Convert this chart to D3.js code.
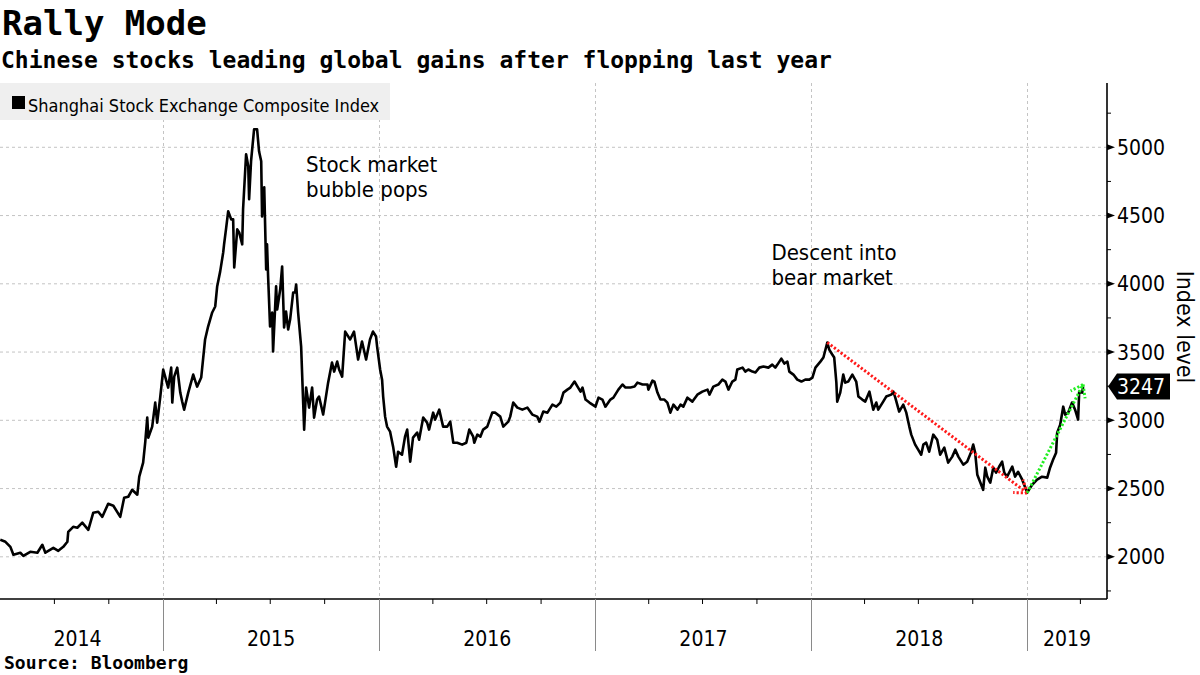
<!DOCTYPE html>
<html><head><meta charset="utf-8">
<script src="https://cdn.jsdelivr.net/npm/d3@7"></script>
<style>
body{margin:0;background:#fff}
svg{display:block}
.cond{font-family:"DejaVu Sans Condensed","Noto Sans","DejaVu Sans",sans-serif;font-stretch:condensed}
.mono{font-family:"DejaVu Sans Mono",monospace;font-weight:bold}
</style>
</head><body>
<svg id="c" width="1200" height="675"></svg>
<script>
// ---- data (decimal-year dates, index values) ----
const dates = [
2014.245,2014.269,2014.292,2014.306,2014.338,2014.352,2014.384,2014.417,2014.440,2014.454,
2014.491,2014.514,2014.537,2014.556,2014.560,2014.583,2014.602,2014.625,2014.653,2014.676,
2014.699,2014.718,2014.745,2014.769,2014.801,2014.819,2014.838,2014.856,2014.880,2014.889,
2014.907,2014.917,2014.926,2014.931,2014.949,2014.963,2014.972,2014.986,2015.000,2015.009,
2015.023,2015.037,2015.042,2015.051,2015.065,2015.079,2015.088,2015.097,2015.116,2015.139,
2015.157,2015.176,2015.194,2015.208,2015.227,2015.241,2015.250,2015.264,2015.278,2015.282,
2015.292,2015.301,2015.315,2015.324,2015.329,2015.343,2015.352,2015.366,2015.370,2015.384,
2015.394,2015.398,2015.407,2015.421,2015.435,2015.444,2015.454,2015.458,2015.468,2015.477,
2015.481,2015.486,2015.495,2015.505,2015.509,2015.523,2015.528,2015.542,2015.551,2015.560,
2015.569,2015.579,2015.588,2015.602,2015.611,2015.616,2015.625,2015.639,2015.653,2015.662,
2015.676,2015.690,2015.699,2015.713,2015.722,2015.741,2015.764,2015.782,2015.792,2015.806,
2015.815,2015.829,2015.843,2015.866,2015.884,2015.903,2015.921,2015.940,2015.958,2015.972,
2015.986,2015.991,2016.005,2016.014,2016.019,2016.028,2016.037,2016.051,2016.065,2016.079,
2016.088,2016.106,2016.120,2016.130,2016.144,2016.157,2016.176,2016.185,2016.204,2016.222,
2016.231,2016.250,2016.259,2016.278,2016.296,2016.315,2016.329,2016.343,2016.361,2016.384,
2016.403,2016.417,2016.435,2016.440,2016.454,2016.468,2016.481,2016.500,2016.523,2016.537,
2016.560,2016.574,2016.597,2016.606,2016.620,2016.639,2016.662,2016.685,2016.708,2016.731,
2016.741,2016.759,2016.778,2016.801,2016.819,2016.838,2016.852,2016.870,2016.884,2016.903,
2016.917,2016.931,2016.940,2016.954,2016.972,2016.986,2017.000,2017.014,2017.032,2017.046,
2017.069,2017.083,2017.106,2017.125,2017.139,2017.162,2017.181,2017.194,2017.218,2017.241,
2017.245,2017.264,2017.273,2017.287,2017.301,2017.319,2017.333,2017.347,2017.361,2017.380,
2017.394,2017.407,2017.426,2017.449,2017.472,2017.495,2017.519,2017.528,2017.546,2017.569,
2017.588,2017.602,2017.616,2017.634,2017.648,2017.657,2017.681,2017.694,2017.708,2017.727,
2017.741,2017.759,2017.778,2017.801,2017.819,2017.833,2017.843,2017.861,2017.875,2017.889,
2017.898,2017.917,2017.935,2017.954,2017.972,2017.991,2018.005,2018.019,2018.042,2018.056,
2018.074,2018.083,2018.097,2018.106,2018.116,2018.120,2018.134,2018.148,2018.157,2018.171,
2018.190,2018.208,2018.218,2018.236,2018.250,2018.269,2018.287,2018.301,2018.310,2018.333,
2018.347,2018.370,2018.380,2018.389,2018.407,2018.426,2018.440,2018.454,2018.463,2018.481,
2018.495,2018.509,2018.519,2018.532,2018.546,2018.565,2018.583,2018.597,2018.616,2018.634,
2018.653,2018.667,2018.681,2018.704,2018.722,2018.741,2018.750,2018.759,2018.769,2018.778,
2018.796,2018.806,2018.815,2018.829,2018.843,2018.856,2018.870,2018.884,2018.894,2018.907,
2018.931,2018.944,2018.958,2018.977,2018.986,2019.000,2019.023,2019.046,2019.069,2019.093,
2019.106,2019.120,2019.134,2019.139,2019.153,2019.167,2019.176,2019.190,2019.208,2019.222,
2019.236,2019.241,2019.255,2019.259
];
const values = [
2125,2110,2073,2015,2030,2007,2037,2030,2088,2030,
2066,2044,2073,2110,2183,2220,2213,2250,2198,2323,
2330,2293,2389,2374,2293,2433,2440,2491,2455,2587,
2690,2844,3020,2873,2954,3130,2983,3166,3372,3320,
3240,3386,3130,3320,3386,3203,3137,3078,3203,3335,
3247,3313,3592,3687,3790,3834,3981,4091,4230,4289,
4413,4531,4472,4472,4120,4399,4377,4289,4546,4949,
4861,4619,4898,5132,5132,4971,4898,4494,4707,4105,
4289,4054,3687,3790,3504,3981,3812,3958,4127,3680,
3797,3665,3738,3936,3936,3995,3790,3540,2932,3240,
3093,3240,3020,3152,3174,3042,3276,3423,3357,3430,
3372,3320,3650,3592,3650,3445,3577,3445,3592,3650,
3614,3540,3372,3298,3174,3027,2954,2917,2807,2660,
2770,2748,2880,2932,2697,2873,2910,2858,3020,2983,
2932,3056,3005,3078,2954,2954,2990,2836,2836,2822,
2836,2932,2880,2836,2895,2880,2932,2954,3056,3056,
3027,2954,2990,3027,3130,3093,3078,3093,3042,3027,
2990,3064,3056,3115,3100,3130,3203,3225,3240,3284,
3247,3210,3240,3152,3130,3115,3100,3166,3152,3100,
3152,3166,3225,3262,3240,3240,3247,3276,3262,3262,
3225,3291,3284,3203,3152,3152,3130,3056,3115,3078,
3115,3100,3166,3137,3188,3210,3225,3188,3247,3262,
3298,3284,3225,3284,3298,3372,3386,3357,3372,3357,
3350,3386,3394,3386,3408,3386,3408,3452,3416,3430,
3357,3335,3298,3284,3298,3298,3313,3386,3430,3460,
3570,3518,3482,3460,3276,3137,3203,3335,3276,3284,
3335,3284,3174,3152,3137,3210,3078,3130,3078,3137,
3174,3188,3210,3166,3064,3115,3056,2954,2895,2822,
2785,2748,2822,2836,2770,2895,2858,2748,2800,2690,
2734,2785,2734,2675,2697,2770,2822,2763,2601,2565,
2491,2653,2587,2543,2653,2616,2660,2697,2616,2587,
2660,2587,2623,2565,2528,2470,2528,2565,2587,2580,
2653,2711,2763,2910,2968,3100,3042,3056,3130,3078,
3005,3210,3203,3247
];
const yTicks = [2000,2500,3000,3500,4000,4500,5000];
const yMinorTicks = [1750,2250,2750,3250,3750,4250,4750,5250];
const yearLabels = ["2014","2015","2016","2017","2018","2019"];
const lastValue = 3247;
// annotation arrows: [fromDate, fromValue, toDate, toValue]
const redArrow = [2018.074, 3570, 2019.000, 2468];
const greenArrow = [2019.000, 2468, 2019.259, 3262];
const annotations = [
  {lines:["Stock market","bubble pops"], t:2015.662, v:4819},
  {lines:["Descent into","bear market"], t:2017.815, v:4174}
];

// ---- helpers ----
function fromDecimal(t){
  const yr=Math.floor(t), s=new Date(yr,0,1), e=new Date(yr+1,0,1);
  return new Date(+s + (t-yr)*(e-s));
}
const series = dates.map((t,i)=>({d:fromDecimal(t), v:values[i]}));

const pL=0, pR=1107, pT=83, pB=599;
const xs = d3.scaleTime().domain([new Date(2014,2,31), new Date(2019,4,16)]).range([pL,pR]);
const ys = d3.scaleLinear().domain([1691,5471]).range([pB,pT]);

const svg = d3.select("#c");

// titles
svg.append("text").attr("class","mono").attr("x",2).attr("y",35).attr("font-size",34).text("Rally Mode");
svg.append("text").attr("class","mono").attr("x",1).attr("y",68).attr("font-size",23)
  .text("Chinese stocks leading global gains after flopping last year");

// grid
const grid = svg.append("g");
grid.selectAll("line.hg").data(yTicks).join("line").attr("class","hg")
  .attr("x1",pL).attr("x2",pR).attr("y1",d=>ys(d)).attr("y2",d=>ys(d))
  .attr("stroke","#c4c4c4").attr("stroke-width",1).attr("stroke-dasharray","3,3");
const yearStarts = d3.timeYear.range(new Date(2014,6,1), new Date(2019,4,16));
grid.selectAll("line.vg").data(yearStarts).join("line").attr("class","vg")
  .attr("x1",d=>Math.round(xs(d))+0.5).attr("x2",d=>Math.round(xs(d))+0.5).attr("y1",pT).attr("y2",pB)
  .attr("stroke","#c4c4c4").attr("stroke-width",1).attr("stroke-dasharray","3,3");

// legend
svg.append("rect").attr("x",0).attr("y",83).attr("width",390).attr("height",37).attr("fill","#efefef");
svg.append("rect").attr("x",12).attr("y",96).attr("width",13).attr("height",13).attr("fill","#000");
svg.append("text").attr("class","cond").attr("x",28).attr("y",112).attr("font-size",18)
  .text("Shanghai Stock Exchange Composite Index");

// annotations text
annotations.forEach(a=>{
  const ax = xs(fromDecimal(a.t));
  const tx = svg.append("text").attr("class","cond").attr("font-size",22).attr("x",ax).attr("y",ys(a.v));
  a.lines.forEach((l,i)=>tx.append("tspan").attr("x",ax).attr("dy",i?25:0).text(l));
});

// clip
svg.append("clipPath").attr("id","clip").append("rect")
  .attr("x",pL).attr("y",pT).attr("width",pR-pL).attr("height",pB-pT);

// line
svg.append("path").datum(series).attr("clip-path","url(#clip)")
  .attr("fill","none").attr("stroke","#000").attr("stroke-width",2.6)
  .attr("stroke-linejoin","round")
  .attr("d", d3.line().x(d=>xs(d.d)).y(d=>ys(d.v)));

// dotted arrows
function arrow(a,color){
  const x1=xs(fromDecimal(a[0])), y1=ys(a[1]), x2=xs(fromDecimal(a[2])), y2=ys(a[3]);
  const gg = svg.append("g").attr("stroke",color).attr("stroke-width",3)
    .attr("stroke-dasharray","2.2,2").attr("fill","none");
  gg.append("line").attr("x1",x1).attr("y1",y1).attr("x2",x2).attr("y2",y2);
  const ang = Math.atan2(y1-y2, x1-x2), L=14, s=0.62;
  [ang+s, ang-s].forEach(b=>{
    gg.append("line").attr("x1",x2).attr("y1",y2)
      .attr("x2",x2+L*Math.cos(b)).attr("y2",y2+L*Math.sin(b));
  });
}
arrow(redArrow,"#ff1a1a");
arrow(greenArrow,"#22ee22");

// axes
svg.append("line").attr("x1",pL).attr("x2",pR).attr("y1",pB).attr("y2",pB)
  .attr("stroke","#000").attr("stroke-width",1.6);
svg.append("line").attr("x1",pR).attr("x2",pR).attr("y1",pT).attr("y2",pB)
  .attr("stroke","#000").attr("stroke-width",1.6);

// y ticks
svg.selectAll("line.ymin").data(yMinorTicks).join("line").attr("class","ymin")
  .attr("x1",pR).attr("x2",pR+4).attr("y1",d=>ys(d)).attr("y2",d=>ys(d))
  .attr("stroke","#000").attr("stroke-width",1);
svg.selectAll("path.ymaj").data(yTicks).join("path").attr("class","ymaj")
  .attr("d",d=>`M${pR},${ys(d)-3}L${pR+8},${ys(d)}L${pR},${ys(d)+3}Z`).attr("fill","#000");
svg.selectAll("text.ylab").data(yTicks).join("text").attr("class","cond ylab")
  .attr("x",pR+10).attr("y",d=>ys(d)).attr("dy","0.36em").attr("font-size",21)
  .text(d=>d);

// last value tag
const yc = ys(lastValue);
svg.append("path").attr("d",`M${pR+1},${yc}L${pR+10},${yc-13}L1170,${yc-13}L1170,${yc+13}L${pR+10},${yc+13}Z`)
  .attr("fill","#000");
svg.append("text").attr("class","cond").attr("x",1141).attr("y",yc).attr("dy","0.36em")
  .attr("text-anchor","middle").attr("fill","#fff").attr("font-size",21).text(lastValue);

// y title
svg.append("text").attr("class","cond").attr("font-size",23).attr("text-anchor","middle")
  .attr("transform","translate(1177,327) rotate(90)").text("Index level");

// x quarter ticks
const quarters = d3.timeMonth.every(3).range(new Date(2014,3,2), new Date(2019,4,16))
  .filter(d=>d.getMonth()!==0);
svg.selectAll("line.qt").data(quarters).join("line").attr("class","qt")
  .attr("x1",d=>xs(d)).attr("x2",d=>xs(d)).attr("y1",pB).attr("y2",pB+5)
  .attr("stroke","#000").attr("stroke-width",1);
// year separators
svg.selectAll("line.ysep").data(yearStarts).join("line").attr("class","ysep")
  .attr("x1",d=>Math.round(xs(d))+0.5).attr("x2",d=>Math.round(xs(d))+0.5).attr("y1",pB).attr("y2",651)
  .attr("stroke","#8a8a8a").attr("stroke-width",1);
// year labels
const bounds = [pL, ...yearStarts.map(d=>xs(d)), pR];
svg.selectAll("text.yl").data(yearLabels).join("text").attr("class","cond yl")
  .attr("x",(d,i)=>(bounds[i]+bounds[i+1])/2 - (i===0?4:0)).attr("y",646).attr("text-anchor","middle")
  .attr("font-size",21).text(d=>d);

// source
svg.append("text").attr("class","mono").attr("x",4).attr("y",669).attr("font-size",18).text("Source: Bloomberg");
</script>
</body></html>
